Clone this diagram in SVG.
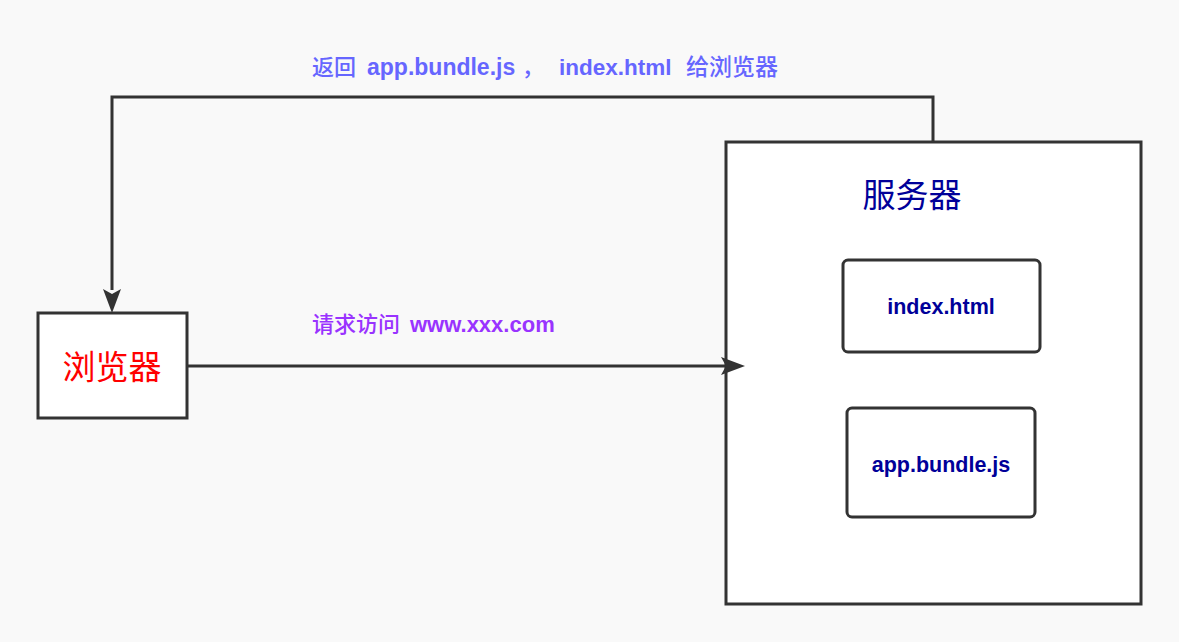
<svg xmlns="http://www.w3.org/2000/svg" width="1179" height="642" viewBox="0 0 1179 642">
<defs>
<style>
.box{fill:#ffffff;stroke:#333333;stroke-width:3}
.ln{fill:none;stroke:#333333;stroke-width:3}
.cjk{font-family:"Noto Sans CJK SC","Noto Sans",sans-serif}
.lat{font-family:"Liberation Sans","Noto Sans CJK SC",sans-serif;font-weight:bold}
.c5{font-family:"Noto Sans CJK SC",sans-serif;font-weight:500}
.lbl{font-family:"Liberation Sans","Noto Sans CJK SC",sans-serif;font-weight:bold;font-size:21.5px;fill:#000099}
</style>
</defs>
<rect width="1179" height="642" fill="#f9f9f9"/>
<g id="browser">
<rect class="box" x="38" y="313" width="149" height="105"/>
<text x="112" y="379" class="cjk" font-size="33" fill="#ff0000" text-anchor="middle">浏览器</text>
</g>
<g id="server">
<rect class="box" x="726" y="142" width="415" height="462"/>
<text x="912" y="207" class="cjk" font-size="33" fill="#000099" text-anchor="middle">服务器</text>
</g>
<g id="index">
<rect class="box" x="843" y="260" width="197" height="92" rx="5"/>
<text x="941" y="314" class="lbl" text-anchor="middle">index.html</text>
</g>
<g id="bundle">
<rect class="box" x="847" y="408" width="188" height="109" rx="5"/>
<text x="941" y="472" class="lbl" text-anchor="middle">app.bundle.js</text>
</g>
<g id="connectors">
<path class="ln" d="M933,142 V97 H112 V290"/>
<path d="M103,289 L112,313 L121,289 L112,294 Z" fill="#333333"/>
<path class="ln" d="M187,366 H725"/>
<path d="M721,357 L745,366 L721,375 L726,366 Z" fill="#333333"/>
<text y="75" fill="#6666ff" xml:space="preserve"><tspan x="312" class="c5" font-size="22">返回</tspan> <tspan x="367" class="lat" font-size="23">app.bundle.js</tspan> <tspan x="522" class="c5" font-size="22">，</tspan> <tspan x="559" class="lat" font-size="22.5">index.html</tspan> <tspan x="686" class="c5" font-size="23">给浏览器</tspan></text>
<text y="332" fill="#9933ff" xml:space="preserve"><tspan x="312" class="c5" font-size="22">请求访问</tspan> <tspan x="410" class="lat" font-size="22">www.xxx.com</tspan></text>
</g>
</svg>
